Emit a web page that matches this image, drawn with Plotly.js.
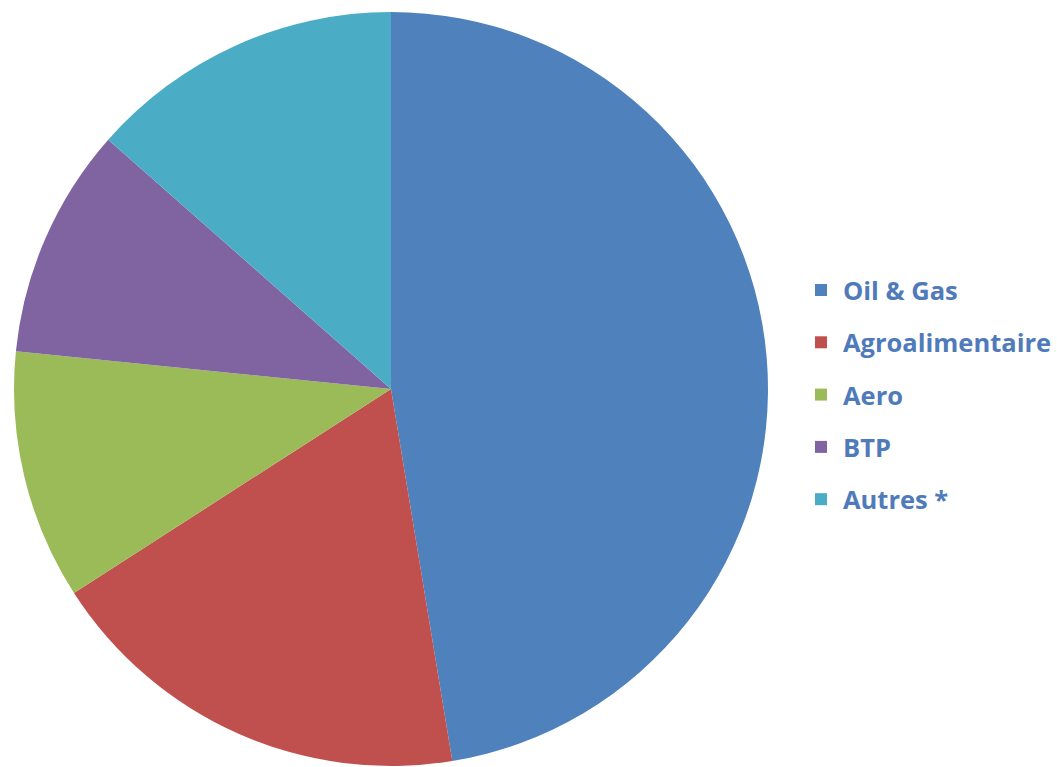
<!DOCTYPE html>
<html>
<head>
<meta charset="utf-8">
<script src="https://cdn.plot.ly/plotly-3.0.1.min.js"></script>
<style>html,body{margin:0;padding:0;background:#fff;}#chart{width:1057px;height:767px;}</style>
</head>
<body>
<div id="chart"></div>
<script>
const labels = ["Oil & Gas", "Agroalimentaire", "Aero", "BTP", "Autres *"];
const values = [47.4, 18.5, 10.7, 9.9, 13.5];
const colors = ["#4F81BD", "#C0504D", "#9BBB59", "#8064A2", "#4BACC6"];

const W = 1057, H = 767;
const px = x => x / W;
const py = y => (H - y) / H;

const legendX = 815, legendTextX = 841, legendY0 = 290, legendStep = 52.3, sq = 12;

const shapes = [], annotations = [];
labels.forEach((lab, i) => {
  const cy = legendY0 + i * legendStep;
  shapes.push({
    type: "rect", xref: "paper", yref: "paper",
    x0: px(legendX), x1: px(legendX + sq),
    y0: py(cy + sq / 2), y1: py(cy - sq / 2),
    fillcolor: colors[i], line: {width: 0}
  });
  annotations.push({
    xref: "paper", yref: "paper", x: px(legendTextX), y: py(cy),
    xanchor: "left", yanchor: "middle", showarrow: false,
    text: "<b>" + lab.replace("&", "&amp;") + "</b>",
    font: {family: "'Open Sans', sans-serif", size: 25.5, color: "#4F7BBA"}
  });
});

const cx = 391, cyc = 389, r = 377;
const data = [{
  type: "pie",
  labels: labels,
  values: values,
  sort: false,
  direction: "clockwise",
  rotation: 0,
  textinfo: "none",
  hoverinfo: "label+percent",
  marker: {colors: colors, line: {width: 0}},
  domain: {x: [px(cx - r), px(cx + r)], y: [py(cyc + r), py(cyc - r)]},
  showlegend: false
}];

const layout = {
  width: W, height: H,
  margin: {l: 0, r: 0, t: 0, b: 0},
  paper_bgcolor: "#fff",
  showlegend: false,
  shapes: shapes,
  annotations: annotations
};

Plotly.newPlot("chart", data, layout, {displayModeBar: false, staticPlot: true});
</script>
</body>
</html>
